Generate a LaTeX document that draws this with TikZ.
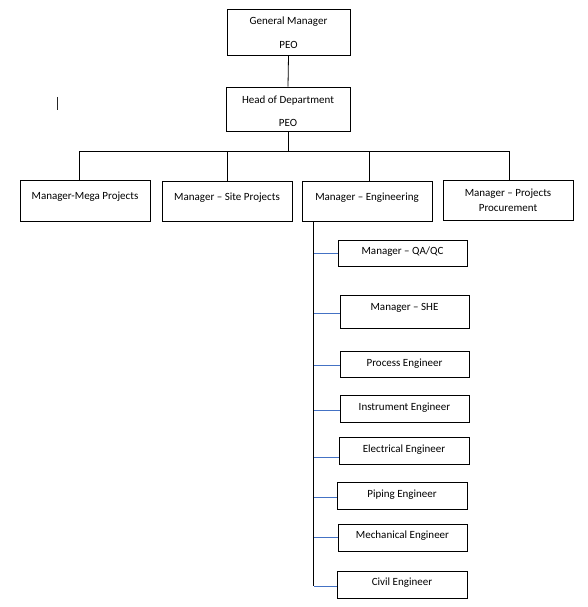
\documentclass[tikz,border=0pt]{standalone}
\usepackage{fontspec}
\setmainfont{Carlito}
\definecolor{conblue}{HTML}{4472C4}
\begin{document}
\begin{tikzpicture}[x=1pt,y=-1pt,
  base/.style={draw=black,line width=0.8pt,inner sep=0pt,align=center,font=\fontsize{11}{13}\selectfont},
  box/.style={base,text height=7pt,text depth=#1},
  box/.default=2pt,
  twoline/.style={base},
  conn/.style={draw=black,line width=0.8pt},
  bluecon/.style={draw=conblue,line width=0.9pt}]
\useasboundingbox (0,0) rectangle (588,607);
% top
\node[twoline,minimum width=123pt,minimum height=46pt] (gm) at (288.5,32) {\rule{0pt}{9.5pt}General Manager\\[11pt]PEO};
\node[twoline,minimum width=124pt,minimum height=44pt] (hod) at (288,109) {\rule{0pt}{12pt}Head of Department\\[10pt]PEO};
% managers
\node[box=9pt,minimum width=130pt,minimum height=41pt] (mega) at (85,200.5) {Manager-Mega Projects};
\node[box=9pt,minimum width=130pt,minimum height=40pt] (site) at (227,201) {Manager -- Site Projects};
\node[box=9pt,minimum width=130pt,minimum height=40pt] (eng) at (367,201) {Manager -- Engineering};
\node[twoline,font=\fontsize{11}{15}\selectfont,minimum width=130pt,minimum height=40pt] (proc) at (508,200) {Manager -- Projects\\Procurement};
% sub boxes
\node[box=5pt,minimum width=129pt,minimum height=26pt] (qa) at (402.5,253) {Manager -- QA/QC};
\node[box=10pt,minimum width=129pt,minimum height=33pt] (she) at (404.5,311.5) {Manager -- SHE};
\node[box=3pt,minimum width=129pt,minimum height=26pt] (process) at (404.5,364) {Process Engineer};
\node[box=4pt,minimum width=129pt,minimum height=27pt] (instr) at (404.5,408.5) {Instrument Engineer};
\node[box=4pt,minimum width=130pt,minimum height=27pt] (elec) at (404,450.5) {Electrical Engineer};
\node[box=4pt,minimum width=130pt,minimum height=27pt] (piping) at (402,495.5) {Piping Engineer};
\node[box=6pt,minimum width=129pt,minimum height=27pt] (mech) at (402.5,537.5) {Mechanical Engineer};
\node[box=6pt,minimum width=130pt,minimum height=27pt] (civil) at (402,584.5) {Civil Engineer};
% connectors top
\coordinate (bus) at (0,151);
\draw[conn] (gm.south) -- (hod.north);
\draw[conn] (hod.south) -- (hod.south |- bus);
\draw[conn] ([xshift=-6pt]mega.north) -- ([xshift=-6pt]mega.north |- bus) -- ([xshift=1pt]proc.north |- bus) -- ([xshift=1pt]proc.north);
\draw[conn] (site.north) -- (site.north |- bus);
\draw[conn] ([xshift=2pt]eng.north) -- ([xshift=2pt]eng.north |- bus);
% spine
\coordinate (spinetop) at ([xshift=12pt]eng.south west);
\draw[conn] (spinetop) -- ([yshift=-1.5pt]civil.west -| spinetop);
\foreach \n/\s in {qa/0pt,she/-1.5pt,process/-1pt,instr/-1.5pt,elec/-6.5pt,piping/-1.5pt,mech/0.5pt,civil/-1.5pt}{
  \draw[bluecon] ([yshift=\s]\n.west) -- ([yshift=\s]\n.west -| spinetop);
}
% stray cursor mark
\coordinate (cura) at (57,97);
\coordinate (curb) at (57,110);
\draw[line width=0.8pt,black!85] (cura) -- (curb);
\end{tikzpicture}
\end{document}
